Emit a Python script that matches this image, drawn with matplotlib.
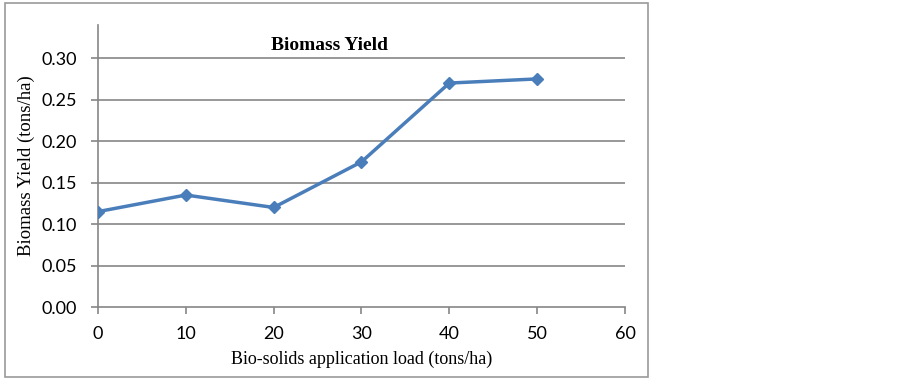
import numpy as np
from matplotlib import pyplot as plt
from matplotlib.patches import Rectangle

# data
load = [0, 10, 20, 30, 40, 50]
yieldVals = [0.115, 0.135, 0.12, 0.175, 0.27, 0.275]
xTicks = [0, 10, 20, 30, 40, 50, 60]
yTicks = [0.00, 0.05, 0.10, 0.15, 0.20, 0.25, 0.30]

gridCol = '#868686'
lineCol = '#4a7ebb'

fig = plt.figure(figsize=(9.03, 3.80), dpi=100)

# outer chart frame
fig.patches.append(Rectangle((5/903, 3/380), 643/903, 374/380, transform=fig.transFigure,
                             fill=False, edgecolor='#9a9a9a', lw=1.2))

ax = fig.add_axes([98/903, 1-307/380, 527/903, 282/380])
ax.plot(load, yieldVals, '-', color=lineCol, lw=2.5, marker='D', ms=6, zorder=3)

ax.set_xlim(0, 60)
ax.set_ylim(0, 0.34)
ax.set_xticks(xTicks)
ax.set_yticks(yTicks)
ax.set_yticklabels(['%.2f' % v for v in yTicks])
for v in yTicks[1:]:
	ax.axhline(v, color=gridCol, lw=1.2, zorder=1)

for s in ['top', 'right']:
	ax.spines[s].set_visible(False)
for s in ['left', 'bottom']:
	ax.spines[s].set_color(gridCol)
	ax.spines[s].set_linewidth(1.2)

ax.tick_params(axis='both', colors=gridCol, length=5, width=1.2, labelcolor='black', labelsize=13)
ax.tick_params(axis='x', pad=9)
ax.tick_params(axis='y', pad=10)
for t in ax.get_xticklabels() + ax.get_yticklabels():
	t.set_family('Lato')

ax.set_xlabel('Bio-solids application load (tons/ha)', family='Liberation Serif', fontsize=13, labelpad=6)
ax.set_ylabel('Biomass Yield (tons/ha)', family='Liberation Serif', fontsize=13.5, labelpad=5)
fig.text(330/903, 1-45/380, 'Biomass Yield', family='Liberation Serif', fontsize=14,
         fontweight='bold', ha='center', va='center')

fig.savefig('out.png', dpi=100)
